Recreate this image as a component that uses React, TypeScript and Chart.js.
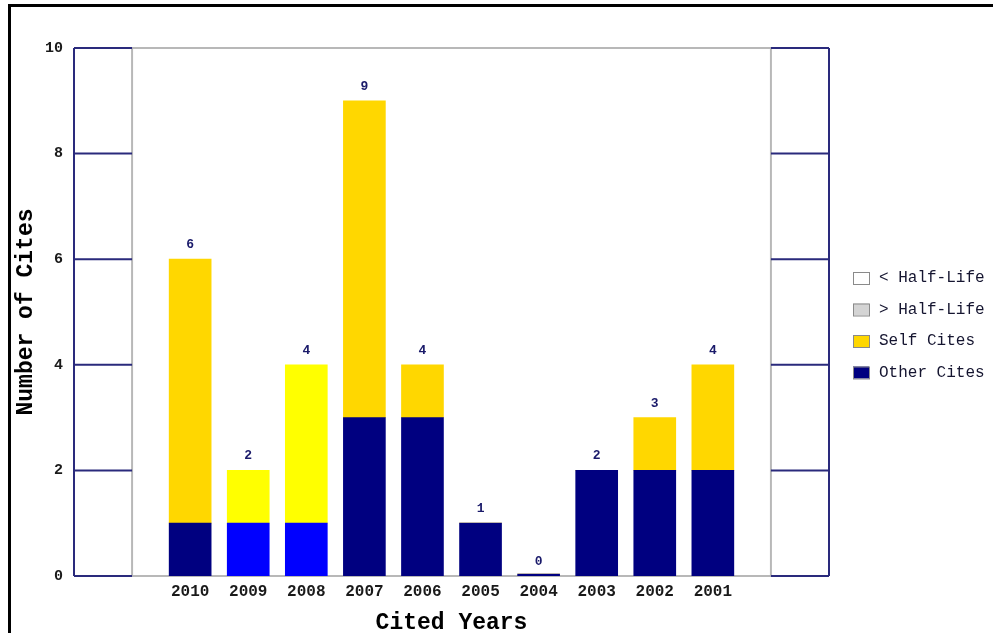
import React, { useEffect, useRef } from 'react';
import { Chart, registerables } from 'chart.js';

Chart.register(...registerables);

// ---- data ----
const citedYears = ['2010', '2009', '2008', '2007', '2006', '2005', '2004', '2003', '2002', '2001'];
const otherCites = [1, 1, 1, 3, 3, 1, 0, 2, 2, 2];
const selfCites = [5, 1, 3, 6, 1, 0, 0, 0, 1, 2];
const highlightedYears = ['2009', '2008'];
const yTickValues = [0, 2, 4, 6, 8, 10];
const legendLabels = ['< Half-Life', '> Half-Life', 'Self Cites', 'Other Cites'];

// ---- styles ----
const NAVY = '#000080';
const BLUE = '#0000FF';
const GOLD = '#FFD700';
const YELLOW = '#FFFF00';
const FRAME_NAVY = '#2a2a7c';
const FRAME_GRAY = '#b8b8b8';
const MONO = "'Liberation Mono', 'Courier New', monospace";
const legendFills = ['#ffffff', '#d4d4d4', GOLD, NAVY];

const framePlugin = {
  id: 'halfLifeFrame',
  beforeDatasetsDraw(chart: any) {
    const { ctx, scales } = chart;
    const xs = scales.x;
    const ys = scales.y;
    const xL = xs.getPixelForValue(-1);
    const xL2 = xs.getPixelForValue(0);
    const xR2 = xs.getPixelForValue(citedYears.length + 1);
    const xR = xs.getPixelForValue(citedYears.length + 2);
    const yTop = ys.getPixelForValue(yTickValues[yTickValues.length - 1]);
    const yBot = ys.getPixelForValue(yTickValues[0]);
    ctx.save();
    ctx.lineWidth = 2;
    ctx.strokeStyle = FRAME_GRAY;
    ctx.beginPath();
    ctx.moveTo(xL2, yTop); ctx.lineTo(xR2, yTop);
    ctx.moveTo(xL2, yBot); ctx.lineTo(xR2, yBot);
    ctx.moveTo(xL2, yTop); ctx.lineTo(xL2, yBot);
    ctx.moveTo(xR2, yTop); ctx.lineTo(xR2, yBot);
    ctx.stroke();
    ctx.strokeStyle = FRAME_NAVY;
    ctx.beginPath();
    ctx.moveTo(xL, yTop); ctx.lineTo(xL, yBot);
    ctx.moveTo(xR, yTop); ctx.lineTo(xR, yBot);
    yTickValues.forEach((v) => {
      const y = ys.getPixelForValue(v);
      ctx.moveTo(xL, y); ctx.lineTo(xL2, y);
      ctx.moveTo(xR2, y); ctx.lineTo(xR, y);
    });
    ctx.stroke();
    ctx.restore();
  },
  afterDatasetsDraw(chart: any) {
    const { ctx, scales } = chart;
    ctx.save();
    ctx.font = `bold 13px ${MONO}`;
    ctx.fillStyle = '#1a1a6a';
    ctx.textAlign = 'center';
    ctx.textBaseline = 'alphabetic';
    citedYears.forEach((_, i) => {
      const total = otherCites[i] + selfCites[i];
      const x = scales.x.getPixelForValue(i + 1);
      const y = scales.y.getPixelForValue(total);
      ctx.fillText(String(total), x, y - 11);
    });
    ctx.restore();
  },
  afterDraw(chart: any) {
    const { ctx } = chart;
    ctx.save();
    const boxX = 853;
    const textX = 879;
    legendLabels.forEach((label, i) => {
      const cy = 278 + i * 31.5;
      ctx.fillStyle = legendFills[i];
      ctx.fillRect(boxX, cy - 6, 16, 12);
      ctx.strokeStyle = '#8a8a8a';
      ctx.lineWidth = 1;
      ctx.strokeRect(boxX + 0.5, cy - 5.5, 16, 12);
      ctx.fillStyle = '#151530';
      ctx.font = `16px ${MONO}`;
      ctx.textAlign = 'left';
      ctx.textBaseline = 'middle';
      ctx.fillText(label, textX, cy);
    });
    ctx.restore();
  },
};

export default function App() {
  const canvasRef = useRef<HTMLCanvasElement | null>(null);

  useEffect(() => {
    if (!canvasRef.current) return;
    const otherColors = citedYears.map((y) => (highlightedYears.includes(y) ? BLUE : NAVY));
    const selfColors = citedYears.map((y) => (highlightedYears.includes(y) ? YELLOW : GOLD));
    const chart = new Chart(canvasRef.current, {
      type: 'bar',
      data: {
        datasets: [
          {
            label: 'Other Cites',
            data: otherCites.map((v, i) => ({ x: i + 1, y: v })),
            backgroundColor: otherColors,
            barThickness: 42,
            minBarLength: 2,
          },
          {
            label: 'Self Cites',
            data: selfCites.map((v, i) => ({ x: i + 1, y: v })),
            backgroundColor: selfColors,
            barThickness: 42,
          },
        ],
      },
      plugins: [framePlugin],
      options: {
        responsive: false,
        animation: false,
        events: [],
        layout: { padding: { left: 0, top: 48, right: 166, bottom: 0 } },
        plugins: { legend: { display: false }, tooltip: { enabled: false } },
        scales: {
          x: {
            type: 'linear',
            offset: false,
            stacked: true,
            min: -1,
            max: citedYears.length + 2,
            grid: { display: false, drawTicks: false, offset: false },
            border: { display: false },
            afterBuildTicks: (scale: any) => {
              scale.ticks = citedYears.map((_, i) => ({ value: i + 1 }));
            },
            afterFit: (scale: any) => {
              scale.height = 57;
              scale.paddingLeft = 0;
              scale.paddingRight = 0;
            },
            ticks: {
              autoSkip: false,
              maxRotation: 0,
              padding: 6,
              color: '#1a1a1a',
              font: { family: MONO, size: 16, weight: 'bold' },
              callback: (_v: any, index: number) => citedYears[index] ?? '',
            },
            title: {
              display: true,
              text: 'Cited Years',
              color: '#000000',
              font: { family: MONO, size: 23, weight: 'bold', lineHeight: 0.8 },
              padding: { top: 0, bottom: 1 },
            },
          },
          y: {
            stacked: true,
            min: yTickValues[0],
            max: yTickValues[yTickValues.length - 1],
            grid: { display: false, drawTicks: false },
            border: { display: false },
            afterBuildTicks: (scale: any) => {
              scale.ticks = yTickValues.map((v) => ({ value: v }));
            },
            afterFit: (scale: any) => {
              scale.width = 74;
              scale.paddingTop = 0;
              scale.paddingBottom = 0;
            },
            ticks: {
              padding: 11,
              color: '#1a1a1a',
              font: { family: MONO, size: 15, weight: 'bold' },
            },
            title: {
              display: true,
              text: 'Number of Cites',
              color: '#000000',
              font: { family: MONO, size: 23, weight: 'bold', lineHeight: 1.2 },
              padding: { top: 12, bottom: 0 },
            },
          },
        },
      } as any,
    });
    return () => chart.destroy();
  }, []);

  return (
    <div style={{ position: 'absolute', left: 0, top: 0, width: 995, height: 633, overflow: 'hidden', background: '#ffffff' }}>
      <div
        style={{
          position: 'absolute',
          left: 8,
          top: 4,
          width: 985,
          height: 629,
          boxSizing: 'border-box',
          borderTop: '3px solid #000',
          borderLeft: '3px solid #000',
        }}
      />
      <canvas
        ref={canvasRef}
        width={995}
        height={633}
        style={{ position: 'absolute', left: 0, top: 0, width: 995, height: 633 }}
      />
    </div>
  );
}
